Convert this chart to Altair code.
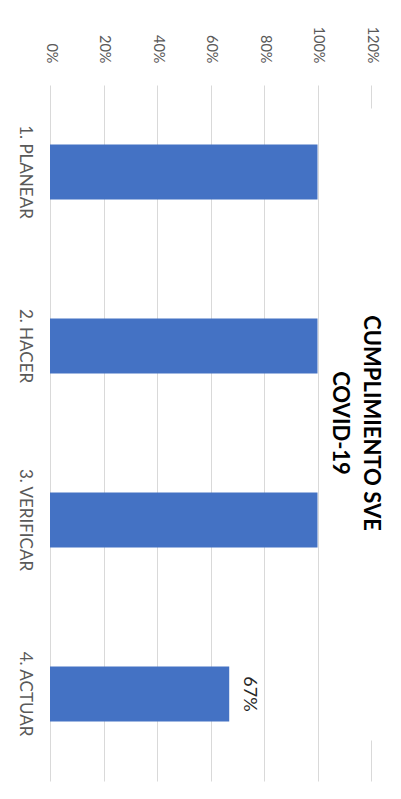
import altair as alt
import pandas as pd

categories = ["1. PLANEAR", "2. HACER", "3. VERIFICAR", "4. ACTUAR"]
values = [1.0, 1.0, 1.0, 0.67]
labels = ["", "", "", "67%"]
tick_values = [0, 0.2, 0.4, 0.6, 0.8, 1.0, 1.2]
title_lines = ["CUMPLIMIENTO SVE", "COVID-19"]

df = pd.DataFrame({"cat": categories, "value": values, "label": labels})

x_enc = alt.X(
    "value:Q",
    scale=alt.Scale(domain=[0, 1.2], nice=False),
    axis=alt.Axis(
        orient="top", values=tick_values, format=".0%", labelAngle=90,
        labelAlign="right", labelBaseline="middle", labelPadding=22,
        ticks=False, domain=False, grid=True, gridColor="#d9d9d9", gridWidth=1,
        gridDash={"condition": {"test": "datum.value > 1.1", "value": [23, 632, 42]}, "value": []},
        labelFont="Lato", labelFontSize=14.5, labelColor="#595959", title=None,
    ),
)
y_enc = alt.Y(
    "cat:N", sort=categories,
    scale=alt.Scale(paddingInner=0.684, paddingOuter=0.342),
    axis=alt.Axis(
        labelAngle=90, labelAlign="center", labelBaseline="top", labelPadding=18,
        ticks=False, domain=False, grid=False, labelFont="Lato", labelFontSize=17,
        labelColor="#595959", title=None,
    ),
)

bars = alt.Chart(df).mark_bar(color="#4472C4").encode(x=x_enc, y=y_enc)
text = alt.Chart(df).mark_text(
    angle=90, align="center", baseline="bottom", dy=-11,
    font="Lato", fontSize=18, color="#262626",
).encode(x="value:Q", y=alt.Y("cat:N", sort=categories), text="label:N")

chart = (
    alt.layer(bars, text)
    .properties(
        width=321, height=696,
        autosize=alt.AutoSizeParams(type="none"),
        padding={"left": 42, "top": 77, "right": 20, "bottom": 8},
        title=alt.TitleParams(
            title_lines, orient="right", angle=90, anchor="middle",
            font="Lato", fontSize=22, fontWeight="bold", color="#000000",
            lineHeight=31, offset=-51, dx=-10,
        ),
    )
    .configure_view(stroke=None)
)

chart.save("out.html", embed_options={"renderer": "svg", "actions": False})
